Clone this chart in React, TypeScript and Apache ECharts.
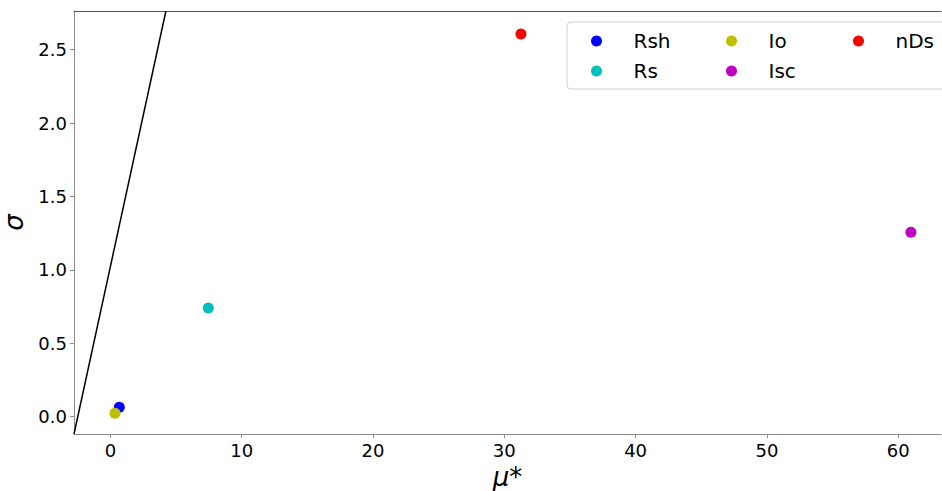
import React, { useEffect, useRef } from "react";
import * as echarts from "echarts";

const params = ["Rsh", "Rs", "Io", "Isc", "nDs"];
const muStar = [0.68, 7.46, 0.35, 60.97, 31.27];
const sigma = [0.064, 0.74, 0.023, 1.256, 2.607];
const colors = ["#0000ff", "#00bfbf", "#bfbf00", "#bf00bf", "#ff0000"];

const xTicks = [0, 10, 20, 30, 40, 50, 60];
const yTicks = [0, 0.5, 1.0, 1.5, 2.0, 2.5];

const refLineX = [-2.77, 4.23];
const refLineY = [-0.118, 2.764];

const legendCols = [["Rsh", "Rs"], ["Io", "Isc"], ["nDs"]];

const FONT = "DejaVu Sans";

export default function App() {
  const ref = useRef<HTMLDivElement>(null);
  useEffect(() => {
    if (!ref.current) return;
    const chart = echarts.init(ref.current, null, { renderer: "svg" });
    const spine = "#8c8c8c";
    const legendLefts = [591, 726, 853];
    const option: any = {
      animation: false,
      backgroundColor: "#ffffff",
      grid: {
        left: 74,
        right: 1,
        top: 11,
        bottom: 57,
        containLabel: false,
        outerBoundsMode: "none",
      },
      xAxis: [
        {
          type: "value",
          min: -2.77,
          max: 63.26,
          position: "bottom",
          name: "μ*",
          nameLocation: "middle",
          nameGap: 27,
          nameTextStyle: { fontFamily: FONT, fontSize: 26, fontStyle: "italic", color: "#000" },
          axisLine: { show: true, onZero: false, lineStyle: { color: spine, width: 1 } },
          axisTick: { show: true, length: 4, lineStyle: { color: spine }, customValues: xTicks },
          axisLabel: {
            fontFamily: FONT,
            fontSize: 18,
            color: "#000",
            margin: 7,
            customValues: xTicks,
            formatter: (v: number) => String(v),
          },
          splitLine: { show: false },
        },
        {
          type: "value",
          min: -2.77,
          max: 63.26,
          position: "top",
          axisLine: { show: true, onZero: false, lineStyle: { color: "#555", width: 1 } },
          axisTick: { show: false },
          axisLabel: { show: false },
          splitLine: { show: false },
        },
      ],
      yAxis: {
        type: "value",
        min: -0.118,
        max: 2.764,
        name: "σ",
        nameLocation: "middle",
        nameRotate: 90,
        nameGap: 53,
        nameTextStyle: {
          fontFamily: FONT,
          fontSize: 26,
          fontStyle: "italic",
          color: "#000",
          verticalAlign: "middle",
          lineHeight: 24,
        },
        axisLine: { show: true, onZero: false, lineStyle: { color: spine, width: 1 } },
        axisTick: { show: true, length: 4, lineStyle: { color: spine }, customValues: yTicks },
        axisLabel: {
          fontFamily: FONT,
          fontSize: 18,
          color: "#000",
          margin: 7,
          customValues: yTicks,
          formatter: (v: number) => v.toFixed(1),
        },
        splitLine: { show: false },
      },
      legend: legendCols.map((col, i) => ({
        data: col,
        orient: "vertical",
        left: legendLefts[i],
        top: 31,
        padding: 0,
        itemWidth: 64,
        itemHeight: 11,
        itemGap: 10,
        selectedMode: false,
        icon: "circle",
        textStyle: { fontFamily: FONT, fontSize: 20, color: "#000", lineHeight: 20 },
      })),
      graphic: [
        {
          type: "rect",
          shape: { x: 567, y: 22, width: 380, height: 67, r: 4 },
          style: { fill: "rgba(255,255,255,0.8)", stroke: "#d0d0d0", lineWidth: 1 },
          z: 0,
          silent: true,
        },
      ],
      series: [
        {
          type: "line",
          data: refLineX.map((x, i) => [x, refLineY[i]]),
          symbol: "none",
          lineStyle: { color: "#000", width: 1.5 },
          clip: true,
          silent: true,
          z: 1,
        },
        ...params.map((p, i) => ({
          name: p,
          type: "scatter",
          data: [[muStar[i], sigma[i]]],
          symbol: "circle",
          symbolSize: 11,
          itemStyle: { color: colors[i], opacity: 1 },
          z: 2 + i,
        })),
      ],
    };
    chart.setOption(option);
    return () => chart.dispose();
  }, []);
  return (
    <div
      ref={ref}
      style={{ position: "fixed", left: 0, top: 0, width: 942, height: 491 }}
    />
  );
}
